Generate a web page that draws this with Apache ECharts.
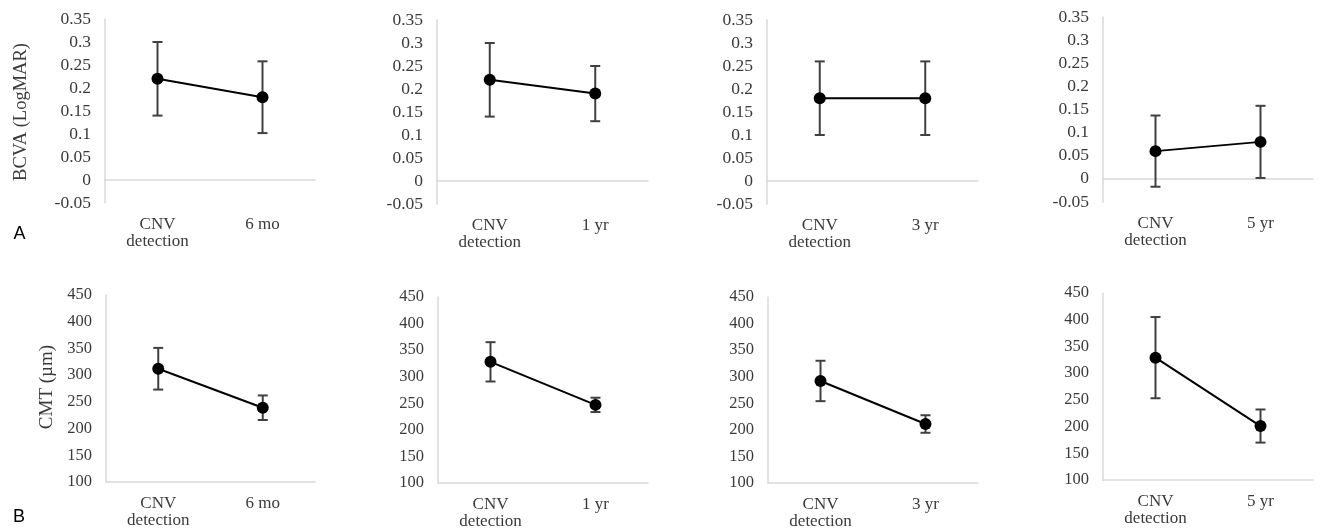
<!DOCTYPE html>
<html>
<head>
<meta charset="utf-8">
<script src="https://cdn.jsdelivr.net/npm/echarts@6/dist/echarts.min.js"></script>
<style>
html,body{margin:0;padding:0;background:#fff;}
#chart{width:1332px;height:530px;}
</style>
</head>
<body>
<div id="chart"></div>
<script>
// ---- data ----
const baselineLabel = "CNV\ndetection";
const followUpLabels = ["6 mo", "1 yr", "3 yr", "5 yr"];
const bcvaMean = [[0.22, 0.18], [0.22, 0.19], [0.18, 0.18], [0.06, 0.08]];
const bcvaErr  = [[0.08, 0.078], [0.08, 0.06], [0.08, 0.08], [0.077, 0.078]];
const cmtMean  = [[312, 239], [328, 247], [292, 211], [329, 201]];
const cmtErr   = [[39, 23], [37, 13.5], [38, 16.5], [76, 31]];
const bcvaTicks = [-0.05, 0.35, 0.05]; // min, max, step
const cmtTicks  = [100, 450, 50];
const bcvaTitle = "BCVA (LogMAR)";
const cmtTitle  = "CMT (µm)";
const panelLetters = ["A", "B"];

// ---- layout ----
const gridsTop = [
  {left:105, width:210, top:19, height:184},
  {left:437, width:211, top:20, height:184},
  {left:767, width:211, top:20, height:184},
  {left:1103, width:210, top:17, height:185}
];
const gridsBottom = [
  {left:106, width:209, top:295, height:187},
  {left:438, width:210, top:297, height:186},
  {left:768, width:210, top:297, height:186},
  {left:1103, width:210, top:293, height:187}
];

const serif = "'Liberation Serif', 'Times New Roman', serif";
const labelColor = "#3a3a3a";
const axisColor = "#d9d9d9";

const grid = [], xAxis = [], yAxis = [], series = [];

function errorBarRender(params, api) {
  const x = api.value(0);
  const hi = api.coord([x, api.value(1)]);
  const lo = api.coord([x, api.value(2)]);
  const w = 5;
  const style = {stroke: "#404040", lineWidth: 2};
  return {
    type: "group",
    children: [
      {type: "line", shape: {x1: hi[0], y1: hi[1], x2: lo[0], y2: lo[1]}, style: style},
      {type: "line", shape: {x1: hi[0]-w, y1: hi[1], x2: hi[0]+w, y2: hi[1]}, style: style},
      {type: "line", shape: {x1: lo[0]-w, y1: lo[1], x2: lo[0]+w, y2: lo[1]}, style: style}
    ]
  };
}

function addPanel(g, cats, mean, err, ticks, tickFont) {
  const idx = grid.length;
  grid.push(Object.assign({containLabel: false}, g));
  xAxis.push({
    type: "category", gridIndex: idx, data: cats, boundaryGap: true,
    axisLine: {show: true, lineStyle: {color: axisColor, width: 1.5}},
    axisTick: {show: false},
    axisLabel: {color: labelColor, fontFamily: serif, fontSize: 17, margin: 13, lineHeight: 17, interval: 0},
    splitLine: {show: false}
  });
  yAxis.push({
    type: "value", gridIndex: idx, min: ticks[0], max: ticks[1], interval: ticks[2],
    axisLine: {show: true, lineStyle: {color: axisColor, width: 1.5}},
    axisTick: {show: false},
    axisLabel: {color: labelColor, fontFamily: serif, fontSize: tickFont, margin: 14},
    splitLine: {show: false}
  });
  series.push({
    type: "custom", xAxisIndex: idx, yAxisIndex: idx, z: 2,
    renderItem: errorBarRender,
    data: mean.map((m, i) => [i, m + err[i], m - err[i]])
  });
  series.push({
    type: "line", xAxisIndex: idx, yAxisIndex: idx, z: 3,
    data: mean, symbol: "circle", symbolSize: 12, showSymbol: true,
    itemStyle: {color: "#000"}, lineStyle: {color: "#000", width: 2}
  });
}

for (let i = 0; i < 4; i++) {
  addPanel(gridsTop[i], [baselineLabel, followUpLabels[i]], bcvaMean[i], bcvaErr[i], bcvaTicks, 17.5);
}
for (let i = 0; i < 4; i++) {
  addPanel(gridsBottom[i], [baselineLabel, followUpLabels[i]], cmtMean[i], cmtErr[i], cmtTicks, 16.5);
}

const option = {
  animation: false,
  backgroundColor: "#fff",
  grid, xAxis, yAxis, series,
  graphic: [
    {type: "text", x: 21, y: 112, rotation: Math.PI/2,
     style: {text: bcvaTitle, font: "18.5px " + serif, fill: labelColor, align: "center", verticalAlign: "middle"}},
    {type: "text", x: 47, y: 387, rotation: Math.PI/2,
     style: {text: cmtTitle, font: "19px " + serif, fill: labelColor, align: "center", verticalAlign: "middle"}},
    {type: "text", x: 19.5, y: 234,
     style: {text: panelLetters[0], font: "18px 'Liberation Sans', Arial, sans-serif", fill: "#000", align: "center", verticalAlign: "middle"}},
    {type: "text", x: 19, y: 517,
     style: {text: panelLetters[1], font: "18px 'Liberation Sans', Arial, sans-serif", fill: "#000", align: "center", verticalAlign: "middle"}}
  ]
};

const chart = echarts.init(document.getElementById("chart"), null, {renderer: "canvas"});
chart.setOption(option);
</script>
</body>
</html>
